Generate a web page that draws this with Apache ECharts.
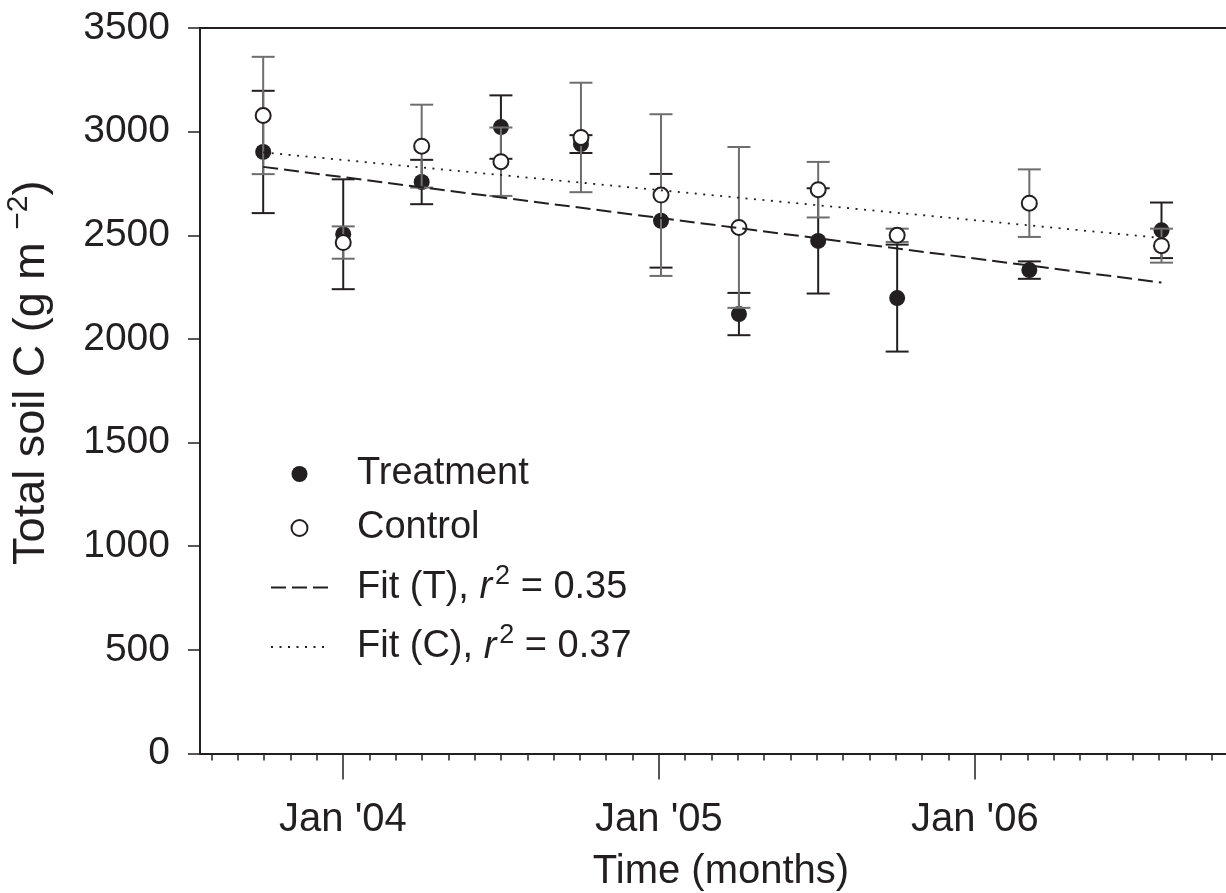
<!DOCTYPE html>
<html>
<head>
<meta charset="utf-8">
<script src="https://cdn.jsdelivr.net/npm/echarts@6/dist/echarts.min.js"></script>
<style>
  html, body { margin: 0; padding: 0; background: #fff; }
  #chart { width: 1226px; height: 893px; }
</style>
</head>
<body>
<div id="chart"></div>
<script>
// months counted from Jan 2003 (Jan '04 = 12)
var months = [8.97, 12.01, 14.99, 18.0, 21.04, 24.08, 27.04, 30.05, 33.05, 38.07, 43.09]
var treatMean = [2902, 2505, 2757, 3022, 2940, 2570, 2120, 2473, 2197, 2332, 2524]
var treatErr = [295, 265, 107, 153, 43, 226, 102, 254, 258, 42, 134]
var ctrlMean = [3078, 2465, 2930, 2855, 2972, 2694, 2538, 2720, 2500, 2655, 2450]
var ctrlErr = [283, 78, 200, 165, 264, 390, 388, 134, 32, 163, 82]
var fitT = [[8.97, 2830], [43.09, 2272]]
var fitC = [[8.97, 2900], [43.09, 2487]]
var yearTicks = [12, 24, 36]
var yearLabels = ["Jan '04", "Jan '05", "Jan '06"]
var firstMonth = 7, lastMonth = 45

var BLACK = '#231f20'
var GREY = '#6e6e6e'
var FONT = 'Liberation Sans'

var monthTicks = []
for (var m = firstMonth; m <= lastMonth; m++) monthTicks.push(m)

function errorBar(color) {
  return function (params, api) {
    var x = api.value(0), mean = api.value(1), e = api.value(2)
    var top = api.coord([x, mean + e])
    var bot = api.coord([x, mean - e])
    var half = 11.5
    var style = { stroke: color, lineWidth: 2 }
    return {
      type: 'group',
      children: [
        { type: 'line', shape: { x1: top[0], y1: top[1], x2: bot[0], y2: bot[1] }, style: style },
        { type: 'line', shape: { x1: top[0] - half, y1: top[1], x2: top[0] + half, y2: top[1] }, style: style },
        { type: 'line', shape: { x1: bot[0] - half, y1: bot[1], x2: bot[0] + half, y2: bot[1] }, style: style }
      ]
    }
  }
}

var legendText = {
  'Treatment': 'Treatment',
  'Control': 'Control',
  'Fit (T)': 'Fit (T), {i|r}{sup|2} = 0.35',
  'Fit (C)': 'Fit (C), {i|r}{sup|2} = 0.37'
}

var chart = echarts.init(document.getElementById('chart'))
chart.setOption({
  animation: false,
  textStyle: { fontFamily: FONT, color: BLACK },
  grid: { left: 200, top: 28, right: 0, bottom: 139.5, outerBoundsMode: 'none', containLabel: false },
  legend: {
    data: [
      { name: 'Treatment' },
      { name: 'Control' },
      { name: 'Fit (T)', itemStyle: { opacity: 0 } },
      { name: 'Fit (C)', itemStyle: { opacity: 0 } }
    ],
    orient: 'vertical',
    left: 265,
    top: 450,
    itemWidth: 57,
    itemHeight: 16,
    itemGap: 16,
    selectedMode: false,
    formatter: function (name) { return legendText[name] },
    textStyle: {
      fontFamily: FONT,
      fontSize: 38,
      color: BLACK,
      padding: [0, 0, 0, 24],
      rich: {
        i: { fontFamily: FONT, fontSize: 38, fontStyle: 'italic', color: BLACK, padding: [0, 3, 0, 0] },
        sup: { fontFamily: FONT, fontSize: 27, color: BLACK, padding: [0, 0, 22, 0] }
      }
    }
  },
  xAxis: [
    {
      type: 'value',
      min: 6.57,
      max: 45.54,
      name: 'Time (months)',
      nameLocation: 'middle',
      nameGap: 98,
      nameTextStyle: { fontFamily: FONT, fontSize: 40, color: BLACK, padding: [0, 0, 0, 16] },
      axisLine: { lineStyle: { color: BLACK, width: 2 } },
      axisTick: { customValues: yearTicks, length: 26, lineStyle: { color: BLACK, width: 1.5 } },
      axisLabel: {
        customValues: yearTicks,
        margin: 46,
        fontSize: 40,
        color: BLACK,
        fontFamily: FONT,
        formatter: function (v) { return yearLabels[yearTicks.indexOf(v)] }
      },
      splitLine: { show: false }
    },
    {
      type: 'value',
      min: 6.57,
      max: 45.54,
      position: 'bottom',
      axisLine: { show: false },
      axisTick: { customValues: monthTicks, length: 7, lineStyle: { color: BLACK, width: 1.5 } },
      axisLabel: { show: false },
      splitLine: { show: false }
    },
    {
      type: 'value',
      min: 6.57,
      max: 45.54,
      position: 'top',
      axisLine: { lineStyle: { color: BLACK, width: 2 } },
      axisTick: { show: false },
      axisLabel: { show: false },
      splitLine: { show: false }
    }
  ],
  yAxis: {
    type: 'value',
    min: 0,
    max: 3500,
    interval: 500,
    name: 'Total soil C (g m {sup|\u22122})',
    nameLocation: 'middle',
    nameGap: 140,
    nameTextStyle: {
      fontFamily: FONT,
      fontSize: 45,
      color: BLACK,
      padding: [0, 0, 0, 36],
      rich: {
        sup: { fontFamily: FONT, fontSize: 30, color: BLACK, padding: [0, 0, 26, 0] }
      }
    },
    axisLine: { show: true, lineStyle: { color: BLACK, width: 2 } },
    axisTick: { show: true, length: 12, lineStyle: { color: BLACK, width: 1.5 } },
    axisLabel: {
      margin: 30,
      fontSize: 39,
      color: BLACK,
      fontFamily: FONT,
      formatter: function (v) { return String(v) }
    },
    splitLine: { show: false }
  },
  series: [
    {
      name: 'Treatment error',
      type: 'custom',
      renderItem: errorBar(BLACK),
      data: months.map(function (x, i) { return [x, treatMean[i], treatErr[i]] }),
      z: 2
    },
    {
      name: 'Treatment',
      type: 'scatter',
      symbol: 'circle',
      symbolSize: 16,
      itemStyle: { color: BLACK, opacity: 1 },
      data: months.map(function (x, i) { return [x, treatMean[i]] }),
      z: 3
    },
    {
      name: 'Control error',
      type: 'custom',
      renderItem: errorBar(GREY),
      data: months.map(function (x, i) { return [x, ctrlMean[i], ctrlErr[i]] }),
      z: 4
    },
    {
      name: 'Control',
      type: 'scatter',
      symbol: 'circle',
      symbolSize: 15,
      itemStyle: { color: '#fff', borderColor: BLACK, borderWidth: 2, opacity: 1 },
      data: months.map(function (x, i) { return [x, ctrlMean[i]] }),
      z: 5
    },
    {
      name: 'Fit (T)',
      type: 'line',
      symbol: 'none',
      color: BLACK,
      data: fitT,
      lineStyle: { color: BLACK, width: 2, type: [15, 6] },
      z: 6
    },
    {
      name: 'Fit (C)',
      type: 'line',
      symbol: 'none',
      color: BLACK,
      data: fitC,
      lineStyle: { color: BLACK, width: 1.8, type: [2, 6.5] },
      z: 6
    }
  ]
})
</script>
</body>
</html>
